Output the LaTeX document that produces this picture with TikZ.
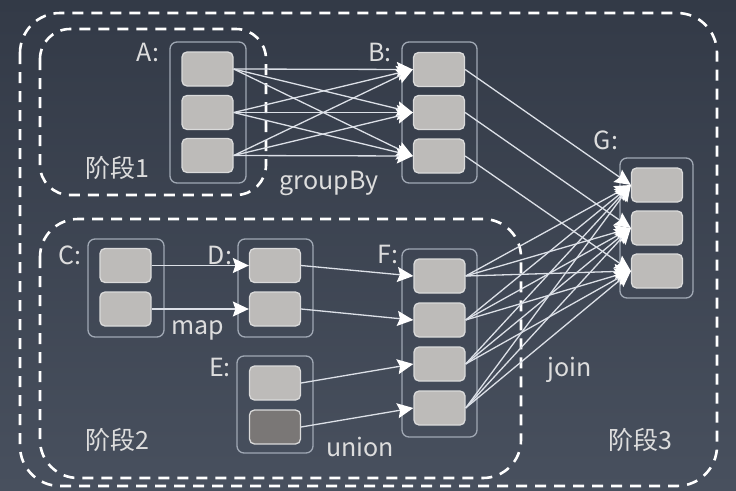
\documentclass[tikz,border=0pt]{standalone}
\usepackage{fontspec}
\setmainfont{Noto Sans CJK SC}
\usetikzlibrary{arrows.meta}
\definecolor{bgtop}{HTML}{333A47}
\definecolor{bgbot}{HTML}{48505E}
\definecolor{cellfill}{HTML}{BDBBB9}
\definecolor{celldark}{HTML}{7A7776}
\definecolor{cellline}{HTML}{DADADA}
\definecolor{boxline}{HTML}{A0A8B4}
\definecolor{wire}{HTML}{DCE0E7}
\definecolor{txt}{HTML}{DDDDDD}
\begin{document}
\begin{tikzpicture}[x=1pt,y=-1pt,
  cell/.style={draw=cellline, line width=1.3pt, fill=cellfill, rounded corners=5pt, minimum width=51pt, minimum height=34pt, inner sep=0pt},
  darkcell/.style={cell, fill=celldark},
  container/.style={draw=boxline, line width=1.3pt, rounded corners=7pt, inner sep=0pt},
  stage/.style={draw=white, line width=2.6pt, dash pattern=on 11pt off 8pt},
  conn/.style={draw=wire, line width=1.3pt, -{Stealth[length=16pt,width=15pt,inset=2.5pt,color=white]}},
  lbl/.style={text=txt, font=\fontsize{25}{30}\selectfont, inner sep=0pt}
]
\shade[top color=bgtop, bottom color=bgbot] (0,0) rectangle (736,490);
\useasboundingbox (0,0) rectangle (736,490);

% stages
\draw[stage, rounded corners=40pt] (20,13) rectangle (717,486);
\draw[stage, rounded corners=30pt] (40,29) rectangle (266,195);
\draw[stage, rounded corners=38pt] (40,219) rectangle (521,478);

% containers
\node[container, minimum width=76pt, minimum height=141pt] (boxA) at (208,112.5) {};
\node[container, minimum width=75pt, minimum height=141pt] (boxB) at (439.5,112.5) {};
\node[container, minimum width=73pt, minimum height=140pt] (boxG) at (656.5,228) {};
\node[container, minimum width=76pt, minimum height=98pt] (boxC) at (126,288) {};
\node[container, minimum width=75pt, minimum height=98pt] (boxD) at (275.5,288) {};
\node[container, minimum width=76pt, minimum height=97pt] (boxE) at (275,404.5) {};
\node[container, minimum width=75pt, minimum height=188pt] (boxF) at (439.5,343) {};

% cells
\node[cell] (a1) at (207.5,69) {};
\node[cell] (a2) at (207.5,112.5) {};
\node[cell] (a3) at (207.5,155.5) {};
\node[cell] (b1) at (439,69.5) {};
\node[cell] (b2) at (439,112.5) {};
\node[cell] (b3) at (439,156) {};
\node[cell] (g1) at (657,185) {};
\node[cell] (g2) at (657,228) {};
\node[cell] (g3) at (657,271) {};
\node[cell] (c1) at (125.5,265.5) {};
\node[cell] (c2) at (125.5,309) {};
\node[cell] (d1) at (275,265.5) {};
\node[cell] (d2) at (275,309) {};
\node[cell] (e1) at (275,383) {};
\node[darkcell] (e2) at (275,427) {};
\node[cell] (f1) at (439.5,276) {};
\node[cell] (f2) at (439.5,320) {};
\node[cell] (f3) at (439.5,364) {};
\node[cell] (f4) at (439.5,408) {};

% connectors
\foreach \s in {a1,a2,a3}{
  \foreach \t in {b1,b2,b3}{
    \draw[conn] (\s.east) -- (\t.west);
  }
}
\draw[conn] (b1.east) -- (g1.west);
\draw[conn] (b2.east) -- (g2.west);
\draw[conn] (b3.east) -- (g3.west);
\foreach \s in {f1,f2,f3,f4}{
  \foreach \t in {g1,g2,g3}{
    \draw[conn] (\s.east) -- (\t.west);
  }
}
\draw[conn] (c1.east) -- (d1.west);
\draw[conn] (c2.east) -- (d2.west);
\draw[conn] (d1.east) -- (f1.west);
\draw[conn] (d2.east) -- (f2.west);
\draw[conn] (e1.east) -- (f3.west);
\draw[conn] (e2.east) -- (f4.west);

% labels
\node[lbl] (labA) at (148,52) {A:};
\node[lbl] (labB) at (380,52) {B:};
\node[lbl] (labG) at (606,140) {G:};
\node[lbl] (labC) at (70,255) {C:};
\node[lbl] (labD) at (220,255) {D:};
\node[lbl] (labE) at (220,367) {E:};
\node[lbl] (labF) at (388,254) {F:};
\node[lbl] (st1) at (117,168) {阶段1};
\node[lbl] (st2) at (117,440) {阶段2};
\node[lbl] (st3) at (640,440) {阶段3};
\node[lbl] (grp) at (329,183) {groupBy};
\node[lbl] (map) at (198,330) {map};
\node[lbl] (uni) at (360,447) {union};
\node[lbl] (join) at (570,370) {join};
\end{tikzpicture}
\end{document}
